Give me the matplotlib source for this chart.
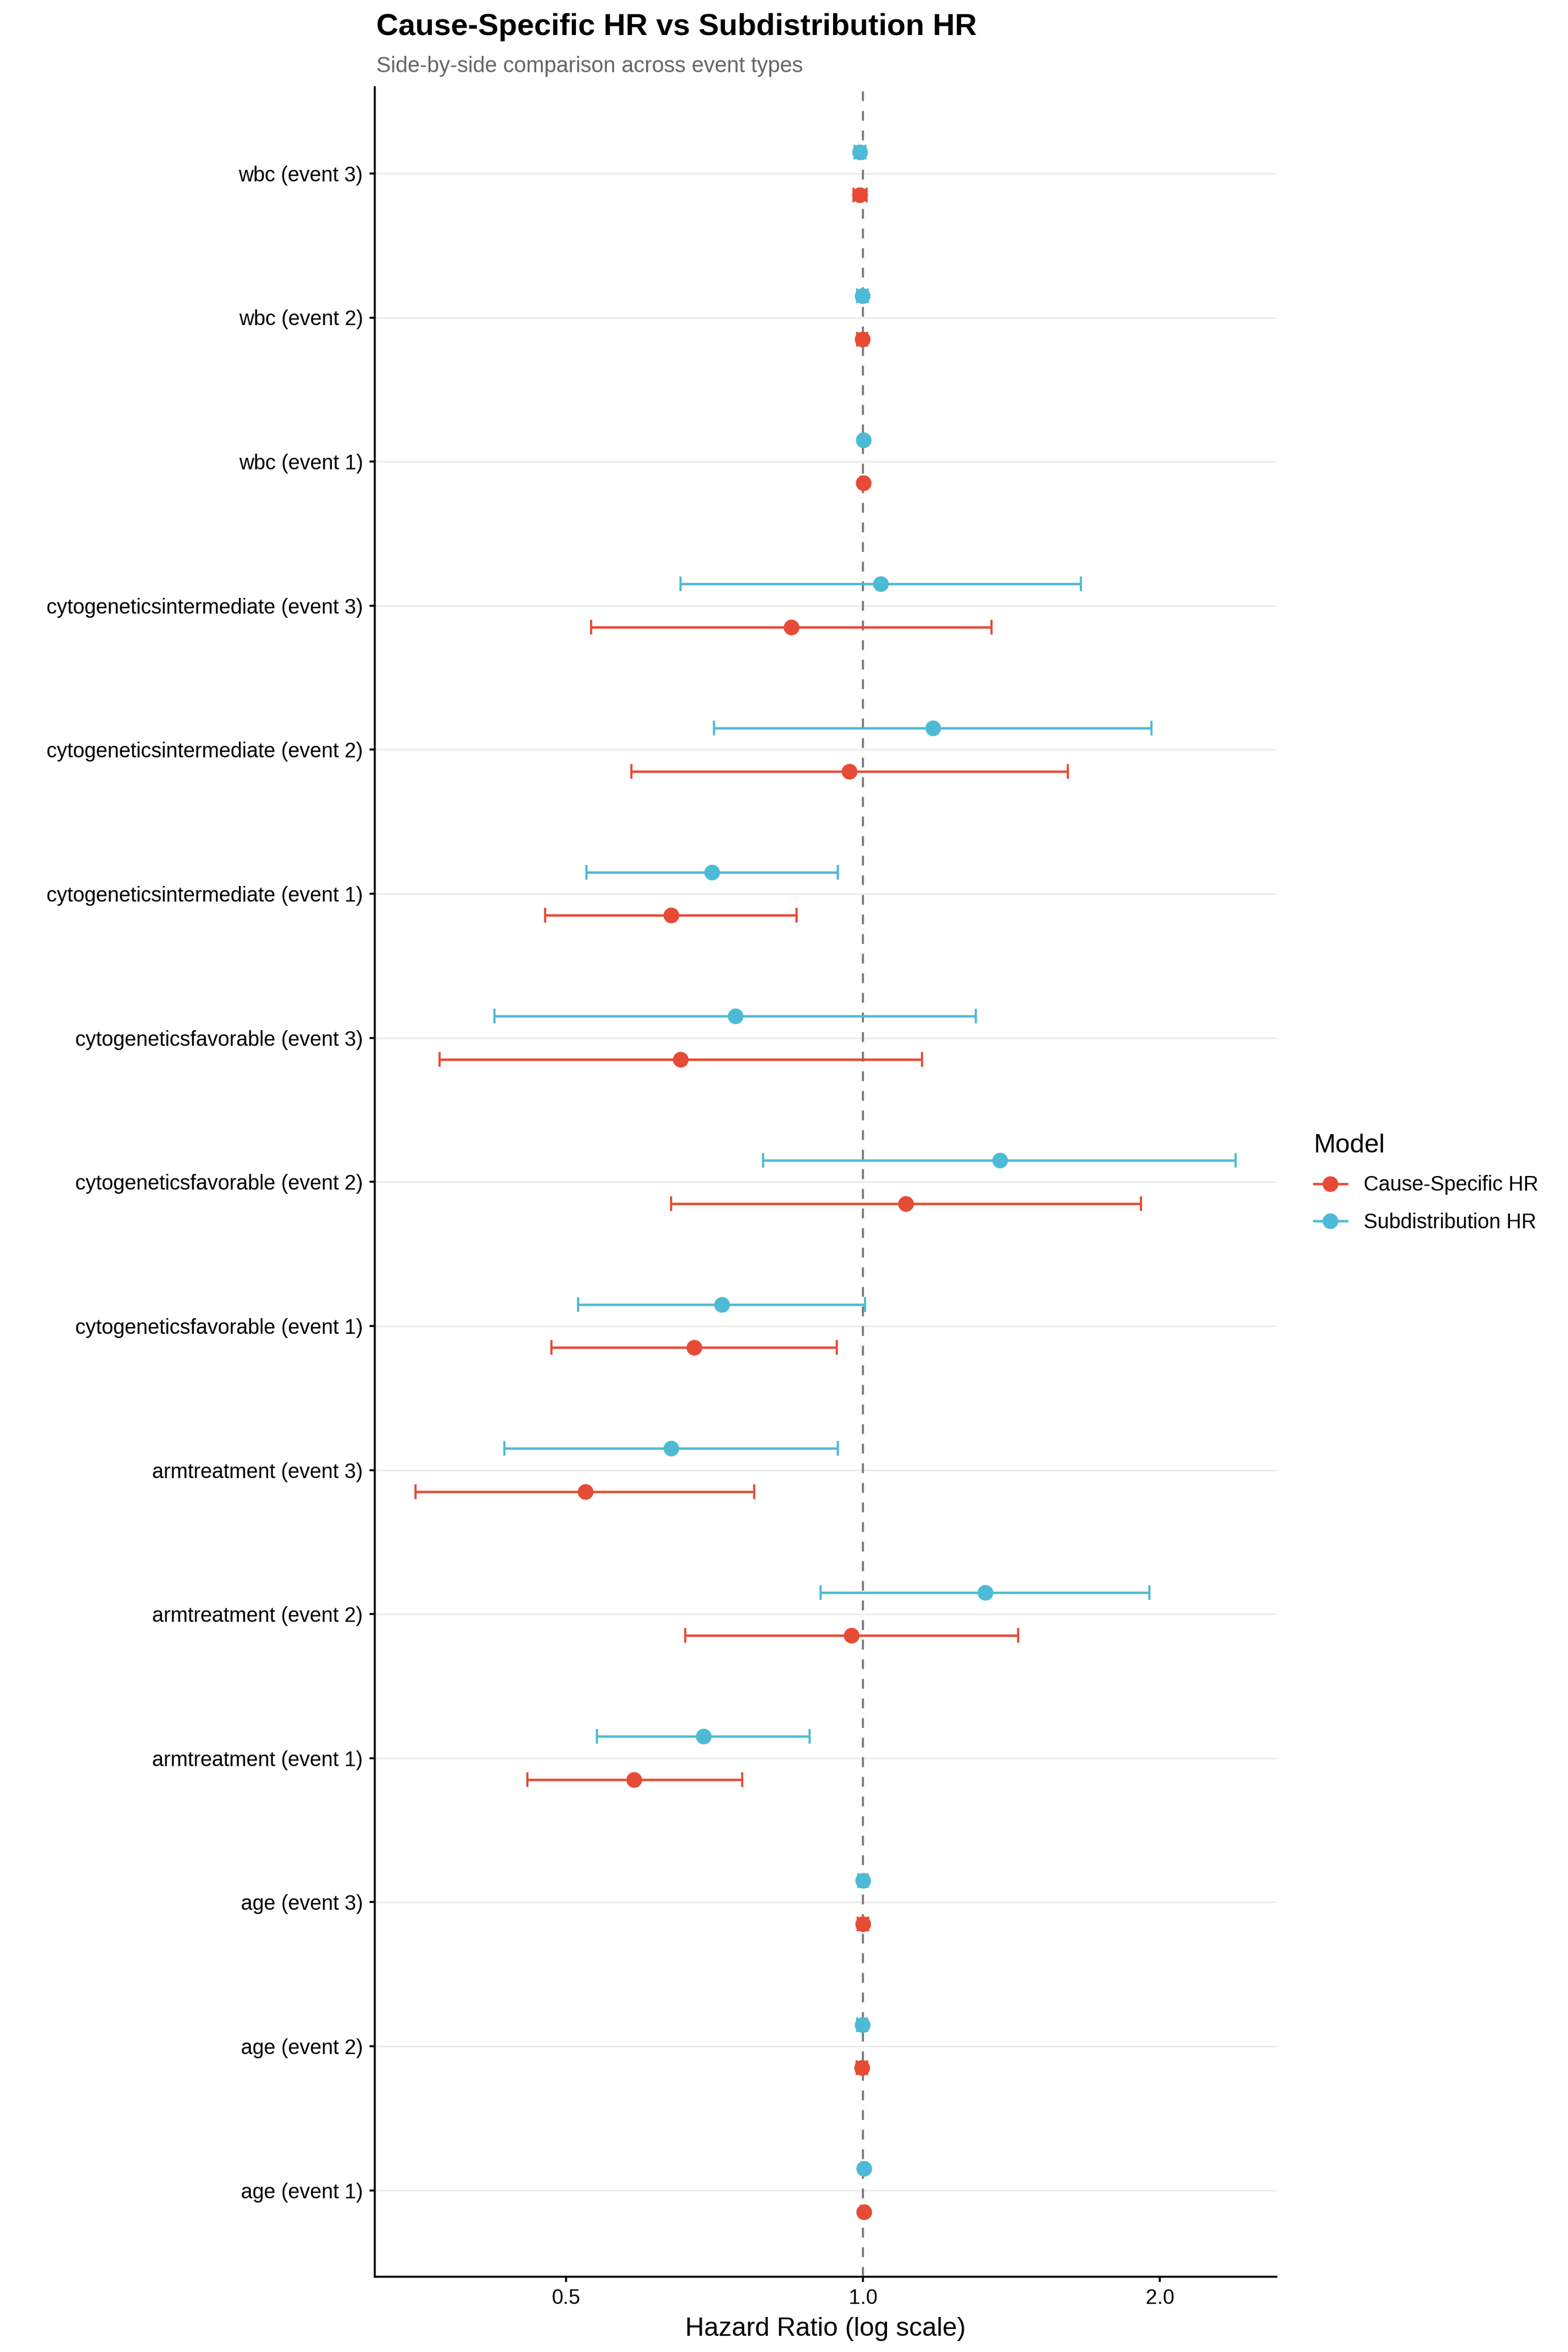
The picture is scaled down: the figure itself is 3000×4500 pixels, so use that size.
import matplotlib
matplotlib.use("Agg")
import matplotlib.pyplot as plt
from matplotlib.lines import Line2D
import numpy as np

plt.rcParams['font.family'] = ['Liberation Sans', 'DejaVu Sans']

# rows from bottom to top
terms = ["age", "age", "age",
         "armtreatment", "armtreatment", "armtreatment",
         "cytogeneticsfavorable", "cytogeneticsfavorable", "cytogeneticsfavorable",
         "cytogeneticsintermediate", "cytogeneticsintermediate", "cytogeneticsintermediate",
         "wbc", "wbc", "wbc"]
events = [1, 2, 3] * 5

cs_hr = [1.002, 0.997, 1.000, 0.586, 0.973, 0.523, 0.674, 1.105, 0.653, 0.639, 0.969, 0.846, 1.001, 0.998, 0.993]
cs_lo = [0.996, 0.985, 0.988, 0.457, 0.660, 0.352, 0.483, 0.639, 0.372, 0.476, 0.582, 0.530, 0.995, 0.987, 0.978]
cs_hi = [1.008, 1.009, 1.012, 0.754, 1.436, 0.776, 0.941, 1.914, 1.148, 0.856, 1.613, 1.349, 1.006, 1.010, 1.008]

sd_hr = [1.002, 0.998, 1.000, 0.689, 1.330, 0.639, 0.719, 1.376, 0.742, 0.703, 1.177, 1.042, 1.001, 0.999, 0.993]
sd_lo = [0.996, 0.987, 0.989, 0.537, 0.906, 0.433, 0.514, 0.792, 0.423, 0.524, 0.706, 0.653, 0.995, 0.987, 0.980]
sd_hi = [1.008, 1.010, 1.011, 0.883, 1.952, 0.943, 1.005, 2.385, 1.301, 0.943, 1.961, 1.663, 1.006, 1.011, 1.006]

models = ["Cause-Specific HR", "Subdistribution HR"]
colors = ["#E64B35", "#4DBBD5"]
x_ticks = [0.5, 1.0, 2.0]

labels = [f"{t} (event {e})" for t, e in zip(terms, events)]
y = np.arange(1, len(labels) + 1)

fig = plt.figure(figsize=(10, 15), dpi=300)
ax = fig.add_axes([0.239, 0.032, 0.575, 0.931])

series = [(cs_hr, cs_lo, cs_hi, -0.15), (sd_hr, sd_lo, sd_hi, 0.15)]
for (hr, lo, hi, off), col in zip(series, colors):
    hr = np.array(hr)
    err = [hr - np.array(lo), np.array(hi) - hr]
    ax.errorbar(hr, y + off, xerr=err, fmt='o', color=col, ecolor=col,
                markersize=6.2, elinewidth=1.1, capsize=3.4, capthick=1.0, zorder=3)

ax.axvline(1.0, color="#7f7f7f", linestyle=(0, (4.5, 4.5)), linewidth=1.0, zorder=2)

ax.set_xscale('log')
lo_all = np.log(min(min(cs_lo), min(sd_lo)))
hi_all = np.log(max(max(cs_hi), max(sd_hi)))
pad = 0.05 * (hi_all - lo_all)
ax.set_xlim(np.exp(lo_all - pad), np.exp(hi_all + pad))
ax.set_ylim(0.4, len(labels) + 0.6)

ax.set_xticks(x_ticks)
ax.set_xticklabels([f"{v:.1f}" for v in x_ticks])
ax.xaxis.set_minor_locator(matplotlib.ticker.NullLocator())
ax.set_yticks(y)
ax.set_yticklabels(labels)

for yy in y:
    ax.axhline(yy, color="#EBEBEB", linewidth=0.7, zorder=1)

for s in ["top", "right"]:
    ax.spines[s].set_visible(False)
for s in ["left", "bottom"]:
    ax.spines[s].set_linewidth(0.9)
ax.tick_params(axis='both', length=2.4, width=0.9, labelsize=9.5, colors="black", pad=3)
ax.set_xlabel("Hazard Ratio (log scale)", fontsize=12, labelpad=4)

fig.text(0.240, 0.9885, "Cause-Specific HR vs Subdistribution HR", fontsize=14,
         fontweight='bold', ha='left', va='center')
fig.text(0.240, 0.9718, "Side-by-side comparison across event types", fontsize=10,
         color="#666666", ha='left', va='center')

handles = [Line2D([0], [0], color=c, marker='o', markersize=6.2, linewidth=1.1) for c in colors]
leg = fig.legend(handles, models, title="Model", loc='center left',
                 bbox_to_anchor=(0.826, 0.497), frameon=False, fontsize=9.5,
                 title_fontsize=12, handlelength=1.6, alignment='left',
                 labelspacing=0.85)

fig.savefig("out.png", dpi=300, facecolor="white")
